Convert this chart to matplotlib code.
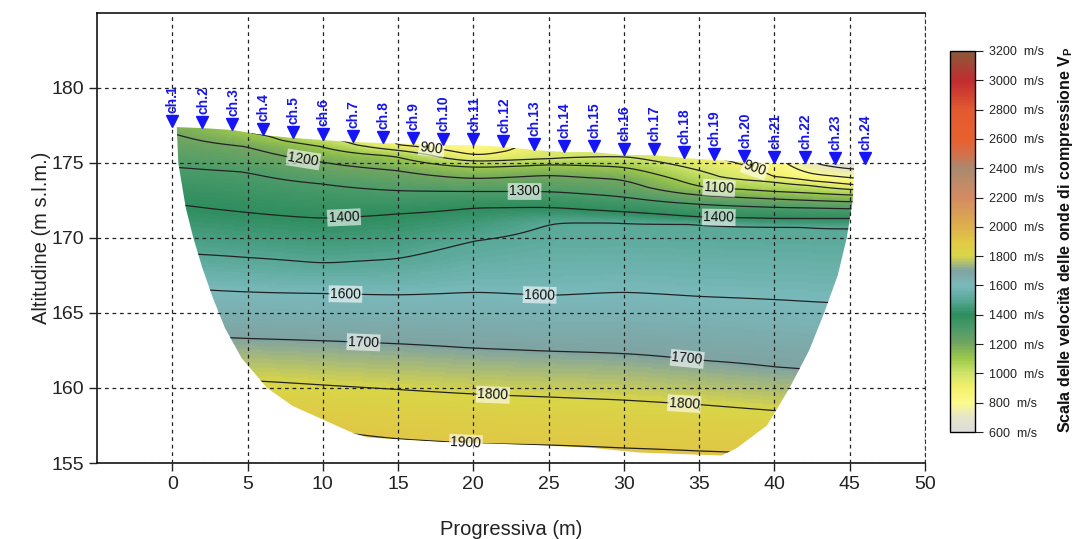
import numpy as np
import matplotlib
matplotlib.use('Agg')
import matplotlib.pyplot as plt
from matplotlib.colors import LinearSegmentedColormap, Normalize
from matplotlib.patches import Polygon
import matplotlib.cm as cm

plt.rcParams['font.family'] = ['Liberation Sans', 'DejaVu Sans']
plt.rcParams['mathtext.fontset'] = 'custom'
plt.rcParams['mathtext.rm'] = 'Liberation Sans'
plt.rcParams['mathtext.bf'] = 'Liberation Sans:bold'

nan = np.nan

# geofoni (progressiva, quota)
ch_x = [0, 2, 4, 6, 8, 10, 12, 14, 16, 18, 20, 22, 24, 26, 28, 30, 32, 34, 36, 38, 40, 42, 44, 46]
ch_z = [177.4, 177.33, 177.2, 176.87, 176.67, 176.53, 176.4, 176.33, 176.27, 176.2, 176.2, 176.07,
        175.87, 175.73, 175.73, 175.53, 175.53, 175.33, 175.2, 175.07, 175.0, 175.0, 174.93, 174.93]
ch_names = ['ch.%d' % (i + 1) for i in range(len(ch_x))]

st_x = [0, 5, 10, 15, 20, 25, 30, 35, 40, 42.5, 45.5]
v_top = [1170, 1100, 1030, 890, 800, 960, 980, 920, 850, 700, 630]
z_700 = [nan, nan, nan, nan, nan, nan, nan, nan, nan, nan, 174.55]
z_800 = [nan, nan, nan, nan, nan, nan, nan, nan, nan, 174.25, 173.95]
z_900 = [nan, nan, nan, 176.2, 175.45, nan, nan, nan, 174.1, 173.8, 173.5]
z_1000 = [nan, nan, nan, 175.85, 175.1, 175.3, 175.45, 174.5, 173.75, 173.5, 173.2]
z_1100 = [nan, nan, 176.1, 175.45, 174.7, 174.9, 174.75, 173.4, 173.1, 173.0, 172.85]
z_1200 = [177.1, 176.1, 175.05, 174.5, 173.95, 174.2, 173.9, 172.85, 172.6, 172.5, 172.4]
z_1300 = [174.75, 174.4, 173.6, 173.15, 173.1, 173.1, 172.75, 172.25, 172.05, 172.0, 171.95]
z_1400 = [172.3, 171.7, 171.3, 171.6, 172.0, 172.05, 171.75, 171.4, 171.3, 171.3, 171.3]
z_1500 = [169.0, 168.7, 168.3, 168.6, 169.8, 171.0, 171.0, 170.9, 170.75, 170.7, 170.6]
z_1600 = [166.7, 166.4, 166.3, 166.2, 166.4, 166.15, 166.4, 166.1, 165.9, 165.75, 165.6]
z_1700 = [163.5, 163.3, 163.15, 162.95, 162.65, 162.45, 162.3, 161.85, 161.4, 161.2, 161.0]
z_1800 = [160.7, 160.5, 160.2, 159.9, 159.6, 159.4, 159.2, 158.9, 158.5, 158.3, 158.1]
z_1900 = [158.2, 157.9, 157.2, 156.6, 156.3, 156.2, 156.0, 155.8, 155.6, 155.5, 155.4]
z_2000 = [153.5, 153.5, 153.5, 153.5, 153.5, 153.5, 153.5, 153.5, 153.5, 153.5, 153.5]

# contorno inferiore della sezione (da sinistra in alto, verso destra in alto)
edge_x = [0.3, 0.4, 0.9, 1.4, 2.0, 2.7, 3.5, 4.6, 6.3, 8.0, 10.0, 12.0, 13.0, 18.0, 24.0, 28.0,
          31.0, 36.5, 37.5, 39.5, 41.0, 42.3, 43.3, 44.2, 44.8, 45.2, 45.3]
edge_z = [177.4, 175.0, 172.0, 170.0, 168.0, 166.0, 164.0, 162.0, 160.0, 158.8, 157.9, 157.0, 156.7,
          156.4, 156.2, 156.0, 155.7, 155.5, 156.0, 157.5, 160.0, 162.5, 165.0, 167.5, 170.0, 172.5, 174.9]

# scala colori
cb_values = [600, 700, 800, 900, 1000, 1100, 1200, 1300, 1400, 1500, 1600, 1700, 1800, 1900,
             2000, 2200, 2400, 2500, 2600, 2800, 3000, 3200]
cb_colors = ['#dcdcdc', '#e6e6c8', '#fcfb8a', '#f4f06a', '#cde36a', '#9cc84a', '#72a660', '#4c9b6a',
             '#2e8d5e', '#58a897', '#7ab9bb', '#7fa3a2', '#d9d648', '#e1c846', '#deb04c', '#d58a62',
             '#a98a6e', '#d3704a', '#e9602e', '#e25a30', '#c22c30', '#8a5a3a']

contour_levels = [700, 800, 900, 1000, 1100, 1200, 1300, 1400, 1500, 1600, 1700, 1800, 1900]
label_pos = [(17.2, 175.8), (38.6, 174.35), (8.7, 175.2), (23.4, 173.2), (36.3, 173.1),
             (11.4, 171.5), (36.3, 171.35), (11.5, 166.1), (24.4, 166.1), (12.7, 163.0),
             (34.2, 161.9), (21.3, 159.5), (34.0, 158.9), (19.5, 156.3)]

# --- griglia delle velocita' ---
iso = {700: z_700, 800: z_800, 900: z_900, 1000: z_1000, 1100: z_1100, 1200: z_1200,
       1300: z_1300, 1400: z_1400, 1500: z_1500, 1600: z_1600, 1700: z_1700, 1800: z_1800,
       1900: z_1900, 2000: z_2000}
surf_st = np.interp(st_x, ch_x, ch_z)
xi = np.linspace(0, 46, 461)
zi = np.linspace(153, 178.5, 256)
v_st = []
for k in range(len(st_x)):
    zs = [surf_st[k]]
    vs = [v_top[k]]
    for lev, arr in iso.items():
        if not np.isnan(arr[k]):
            zs.append(arr[k])
            vs.append(lev)
    order = np.argsort(zs)
    v_st.append(np.interp(zi, np.array(zs)[order], np.array(vs)[order]))
v_st = np.array(v_st)
V = np.array([np.interp(xi, st_x, v_st[:, j]) for j in range(len(zi))])

# leggera lisciatura orizzontale
sig = 8
kk = np.arange(-3 * sig, 3 * sig + 1)
w = np.exp(-kk ** 2 / (2.0 * sig ** 2))
w /= w.sum()
Vp = np.pad(V, ((0, 0), (3 * sig, 3 * sig)), mode='edge')
V = np.array([np.convolve(r, w, mode='valid') for r in Vp])

cmap = LinearSegmentedColormap.from_list(
    'vp', [((v - 600) / 2600.0, c) for v, c in zip(cb_values, cb_colors)])
norm = Normalize(600, 3200)

fig = plt.figure(figsize=(10.8, 5.39), dpi=100)
ax = fig.add_axes([0.0898, 0.141, 0.7667, 0.8349])

top_x = np.linspace(edge_x[-1], edge_x[0], 60)
top_z = np.interp(top_x, ch_x, ch_z)
poly_x = list(edge_x) + list(top_x)
poly_z = list(edge_z) + list(top_z)
clip = Polygon(np.column_stack([poly_x, poly_z]), closed=True, transform=ax.transData,
               facecolor='none', edgecolor='none')

im = ax.imshow(V, extent=(xi[0], xi[-1], zi[0], zi[-1]), origin='lower', aspect='auto',
               cmap=cmap, norm=norm, interpolation='bilinear', zorder=0)
im.set_clip_path(clip)

cs = ax.contour(xi, zi, V, levels=contour_levels, colors='#222222', linewidths=0.9, zorder=1)
cs.set_clip_path(clip)
labels = ax.clabel(cs, fmt='%d', fontsize=10, inline=True, inline_spacing=3, manual=label_pos)
for t in labels:
    t.set_color('#111111')
    t.set_bbox(dict(boxstyle='square,pad=0.1', fc='white', ec='none', alpha=0.6))

# geofoni
ax.plot(ch_x, np.array(ch_z) + 0.4, 'v', color='#1515f5', ms=8.5, zorder=4, clip_on=False)
for x, z, name in zip(ch_x, ch_z, ch_names):
    ax.annotate(name, (x, z), xytext=(0.5, 10), textcoords='offset points', rotation=90,
                ha='center', va='bottom', color='#1515ee', fontsize=10, fontweight='bold',
                zorder=4)

ax.set_xlim(-5, 50)
ax.set_ylim(155, 185)
ax.set_xticks(range(0, 51, 5))
ax.set_yticks(range(155, 181, 5))
ax.grid(True, color='#222222', linestyle=(0, (3, 3)), linewidth=0.9)
ax.set_axisbelow(False)
ax.tick_params(labelsize=14, length=6, width=1, direction='out', colors='#222222')
ax.set_xlabel('Progressiva (m)', fontsize=14.5, labelpad=19, color='#222222')
ax.set_ylabel('Altitudine (m s.l.m.)', fontsize=14.5, labelpad=0, color='#222222')
for s in ['left', 'top', 'bottom']:
    ax.spines[s].set_linewidth(1.1)
ax.spines['right'].set_linestyle((0, (3, 3)))
ax.spines['right'].set_color('#333333')

# barra colori
cax = fig.add_axes([0.8796, 0.1985, 0.0235, 0.707])
cb = fig.colorbar(cm.ScalarMappable(norm=norm, cmap=cmap), cax=cax)
ticks = list(range(600, 3201, 200))
cb.set_ticks(ticks)
cb.set_ticklabels(['%d  m/s' % v for v in ticks])
cax.tick_params(labelsize=9, length=6, width=0.8, colors='#222222')
cb.outline.set_linewidth(1.0)
fig.text(0.987, 0.555, r'Scala delle velocità delle onde di compressione $\mathbf{V_P}$',
         rotation=90, ha='center', va='center', fontsize=11.5, fontweight='bold', color='#111111')

fig.savefig('out.png', dpi=100)
